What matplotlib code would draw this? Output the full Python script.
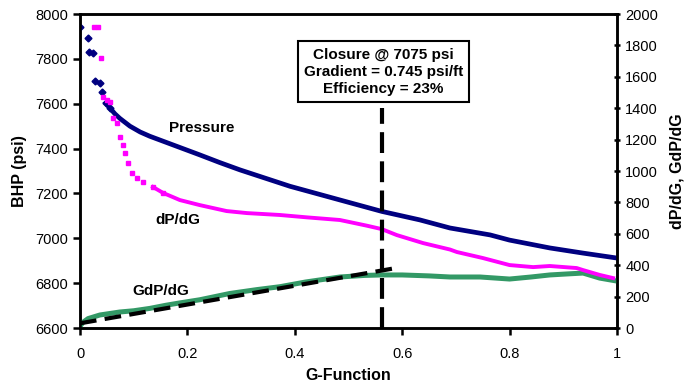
import matplotlib
matplotlib.use('Agg')
import matplotlib.pyplot as plt

plt.rcParams['font.family'] = ['Liberation Sans', 'DejaVu Sans']

# Pressure (BHP, psi) vs G-function
g_p = [0.0, 0.015, 0.017, 0.024, 0.028, 0.037, 0.041, 0.048, 0.056, 0.065, 0.074,
       0.093, 0.112, 0.13, 0.186, 0.223, 0.26, 0.298, 0.391, 0.484, 0.562, 0.633,
       0.689, 0.764, 0.8, 0.875, 0.937, 1.0]
bhp = [7942, 7893, 7830, 7826, 7701, 7692, 7652, 7603, 7580, 7555, 7535,
       7500, 7474, 7455, 7405, 7372, 7338, 7305, 7232, 7171, 7120, 7082,
       7046, 7015, 6992, 6957, 6934, 6912]

# dP/dG (right axis)
g_d = [0.026, 0.034, 0.039, 0.043, 0.05, 0.056, 0.062, 0.069, 0.074, 0.08, 0.084,
       0.09, 0.097, 0.106, 0.118, 0.136, 0.155, 0.173, 0.186, 0.223, 0.273, 0.311,
       0.372, 0.422, 0.484, 0.534, 0.562, 0.59, 0.639, 0.689, 0.702, 0.75, 0.8,
       0.844, 0.875, 0.925, 0.937, 0.968, 0.993]
dpdg = [1920, 1920, 1720, 1471, 1455, 1440, 1338, 1306, 1217, 1166, 1115,
        1051, 987, 955, 930, 898, 860, 834, 815, 783, 745, 732,
        720, 705, 688, 652, 630, 592, 541, 500, 484, 446, 401,
        388, 395, 382, 369, 338, 318]

# G*dP/dG (right axis)
g_g = [0.0, 0.005, 0.015, 0.037, 0.074, 0.1, 0.13, 0.16, 0.186, 0.223, 0.279,
       0.33, 0.372, 0.42, 0.484, 0.53, 0.562, 0.6, 0.65, 0.689, 0.745, 0.8,
       0.84, 0.875, 0.91, 0.937, 0.968, 1.0]
gdpdg = [10, 35, 60, 83, 102, 110, 125, 145, 160, 180, 220,
         245, 263, 293, 325, 335, 338, 338, 332, 325, 325, 312,
         325, 338, 345, 350, 318, 299]

# tangent line and closure marker
tan_g = [0.0, 0.585]
tan_v = [30, 380]
closure_g = 0.562

fig = plt.figure(figsize=(7, 3.85), dpi=100)
ax = fig.add_axes([0.1143, 0.148, 0.767, 0.8156])
ax2 = ax.twinx()

navy = '#000080'
mag = '#FF00FF'
green = '#339966'

# dense part drawn as a band, sparse early points as markers
ax.plot(g_p[7:], bhp[7:], color=navy, lw=3.4, zorder=3)
ax.plot(g_p[:9], bhp[:9], 'D', color=navy, ms=3.5, mec=navy, zorder=3)

ax2.plot(g_g, gdpdg, color=green, lw=3.6, zorder=2)
ax2.plot(g_d[15:], dpdg[15:], color=mag, lw=2.8, zorder=3)
ax2.plot(g_d[:17], dpdg[:17], 's', color=mag, ms=2.8, mec=mag, zorder=3)

ax2.plot(tan_g, tan_v, color='black', lw=3, dashes=(4, 2), zorder=4)
ax2.plot([closure_g, closure_g], [0, 1400], color='black', lw=3, dashes=(5, 2), zorder=4)

ax.set_xlim(0, 1)
ax.set_ylim(6600, 8000)
ax2.set_ylim(0, 2000)
ax.set_xticks([0, 0.2, 0.4, 0.6, 0.8, 1.0])
ax.set_xticklabels(['0', '0.2', '0.4', '0.6', '0.8', '1'])
ax.set_yticks(range(6600, 8001, 200))
ax2.set_yticks(range(0, 2001, 200))

for a in (ax, ax2):
    for s in a.spines.values():
        s.set_linewidth(1.8)
ax.tick_params(axis='both', labelsize=10.5, width=1.8, length=5, direction='out')
ax.tick_params(axis='x', pad=9)
ax2.tick_params(axis='y', labelsize=10.5, width=1.8, length=5, direction='inout')

ax.set_xlabel('G-Function', fontsize=11.5, fontweight='bold', labelpad=5)
ax.set_ylabel('BHP (psi)', fontsize=11.5, fontweight='bold', labelpad=6)
ax2.set_ylabel('dP/dG, GdP/dG', fontsize=11.5, fontweight='bold', labelpad=8)

ax.text(0.227, 7492, 'Pressure', fontsize=11, fontweight='bold', ha='center', va='center')
ax.text(0.183, 7080, 'dP/dG', fontsize=11, fontweight='bold', ha='center', va='center')
ax.text(0.151, 6763, 'GdP/dG', fontsize=11, fontweight='bold', ha='center', va='center')

ax.text(0.565, 7742, 'Closure @ 7075 psi\nGradient = 0.745 psi/ft\nEfficiency = 23%',
        fontsize=11, fontweight='bold', ha='center', va='center', linespacing=1.3,
        bbox=dict(boxstyle='square,pad=0.4', fc='white', ec='black', lw=1.5), zorder=6)

fig.savefig('out.png', dpi=100)
